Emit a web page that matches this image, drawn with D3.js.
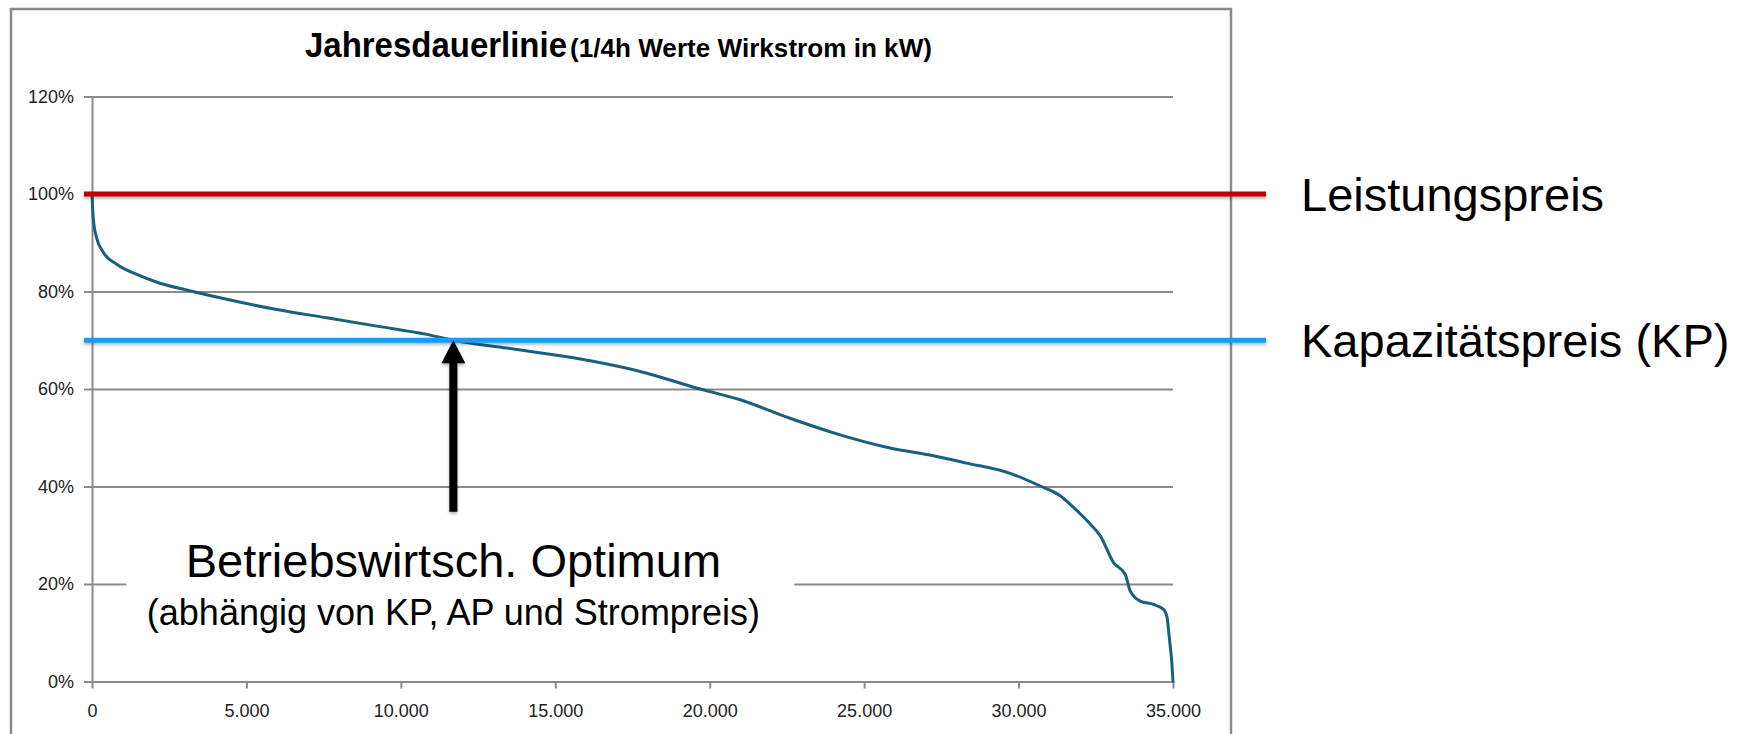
<!DOCTYPE html>
<html>
<head>
<meta charset="utf-8">
<script src="https://cdn.jsdelivr.net/npm/d3@7"></script>
<style>
  body { margin: 0; background: #fff; }
  svg { display: block; font-family: "Liberation Sans", Arial, sans-serif; }
</style>
</head>
<body>
<div id="chart"></div>
<script>
// data
var quarterHours = [0, 40, 150, 370, 800, 1450, 2200, 3065, 4360, 5980, 7600, 9220, 10840, 11700,
  13430, 15590, 17750, 19690, 20985, 22600, 24220, 25840, 27245, 28324, 29728, 30700, 31347,
  31779, 32319, 32643, 33074, 33452, 33614, 33938, 34369, 34693, 34801, 34887, 34963, 35000];
var loadPct = [100, 95, 91, 88, 85.6, 83.5, 81.7, 80.3, 78.4, 76.3, 74.6, 72.9, 71.2, 70.0,
  68.4, 66.4, 63.6, 60.0, 57.8, 54.0, 50.6, 47.9, 46.3, 44.8, 42.7, 40.1, 38.1,
  35.7, 32.3, 29.9, 24.4, 22.0, 18.6, 16.5, 15.8, 14.8, 13.4, 8.6, 3.8, 0];

var yTicks = [0, 20, 40, 60, 80, 100, 120];
var yTickLabels = ["0%", "20%", "40%", "60%", "80%", "100%", "120%"];
var xTicks = [0, 5000, 10000, 15000, 20000, 25000, 30000, 35000];
var xTickLabels = ["0", "5.000", "10.000", "15.000", "20.000", "25.000", "30.000", "35.000"];

var refLevels = [100, 70];
var refNames = ["Leistungspreis", "Kapazitätspreis (KP)"];

var optimumX = 11700, optimumY = 70, arrowEndY = 34.8;
var optimumText = ["Betriebswirtsch. Optimum", "(abhängig von KP, AP und Strompreis)"];

// styles
var refColors = ["#c00000", "#1b9af8"];
var lineColor = "#17607f";
var gridColor = "#8a8a8a";

var W = 1754, H = 734;
var plotLeft = 92, plotRight = 1173, plotTop = 96.5, plotBottom = 681.5;

var svg = d3.select("#chart").append("svg")
    .attr("width", W)
    .attr("height", H);

svg.append("rect").attr("width", W).attr("height", H).attr("fill", "#fff");

// soft shadow under the price lines and the arrow
var defs = svg.append("defs");
defs.append("filter").attr("id", "shadow")
    .attr("filterUnits", "userSpaceOnUse")
    .attr("x", 0).attr("y", 0).attr("width", W).attr("height", H)
  .append("feDropShadow")
    .attr("dx", 0).attr("dy", 2).attr("stdDeviation", 1.4)
    .attr("flood-color", "#000").attr("flood-opacity", 0.3);

// chart frame
svg.append("path")
    .attr("d", "M11,740 V9 H1231 V740")
    .attr("fill", "none")
    .attr("stroke", gridColor)
    .attr("stroke-width", 2.5);

var x = d3.scaleLinear().domain([0, 35000]).range([plotLeft, plotRight]);
var y = d3.scaleLinear().domain([0, 120]).range([plotBottom, plotTop]);

// title
svg.append("text")
    .attr("x", 305).attr("y", 56.5)
    .attr("font-size", 35).attr("font-weight", "bold")
    .attr("textLength", 262).attr("lengthAdjust", "spacingAndGlyphs")
    .text("Jahresdauerlinie");
svg.append("text")
    .attr("x", 570).attr("y", 56.5)
    .attr("font-size", 25).attr("font-weight", "bold")
    .attr("textLength", 362).attr("lengthAdjust", "spacingAndGlyphs")
    .text("(1/4h Werte Wirkstrom in kW)");

// grid lines
svg.append("g")
    .attr("transform", "translate(" + plotLeft + ",0)")
    .call(d3.axisLeft(y).tickValues(yTicks).tickSize(-(plotRight - plotLeft)).tickFormat(""))
    .call(function(g) { g.select(".domain").remove(); })
    .selectAll("line")
    .attr("stroke", gridColor)
    .attr("stroke-width", 2);

// y axis
var yAxis = svg.append("g")
    .attr("transform", "translate(" + plotLeft + ",0)")
    .call(d3.axisLeft(y).tickValues(yTicks).tickSizeInner(8).tickSizeOuter(0).tickPadding(10)
      .tickFormat(function(d, i) { return yTickLabels[i]; }));
yAxis.select(".domain").attr("stroke", gridColor).attr("stroke-width", 2);
yAxis.selectAll("line").attr("stroke", gridColor).attr("stroke-width", 2);
yAxis.selectAll("text").attr("font-size", 18).attr("fill", "#222")
    .attr("font-family", "Liberation Sans, Arial, sans-serif");

// x axis
var xAxis = svg.append("g")
    .attr("transform", "translate(0," + plotBottom + ")")
    .call(d3.axisBottom(x).tickValues(xTicks).tickSizeInner(7).tickSizeOuter(0).tickPadding(16)
      .tickFormat(function(d, i) { return xTickLabels[i]; }));
xAxis.select(".domain").attr("stroke", gridColor).attr("stroke-width", 2);
xAxis.selectAll("line").attr("stroke", gridColor).attr("stroke-width", 2);
xAxis.selectAll("text").attr("font-size", 18).attr("fill", "#222")
    .attr("font-family", "Liberation Sans, Arial, sans-serif");

// duration curve
var pts = quarterHours.map(function(d, i) { return [d, loadPct[i]]; });
var line = d3.line()
    .x(function(d) { return x(d[0]); })
    .y(function(d) { return y(d[1]); })
    .curve(d3.curveMonotoneX);

svg.append("path")
    .datum(pts)
    .attr("fill", "none")
    .attr("stroke", lineColor)
    .attr("stroke-width", 3)
    .attr("stroke-linejoin", "round")
    .attr("stroke-linecap", "round")
    .attr("d", line);

// price lines + labels
refLevels.forEach(function(v, i) {
  svg.append("line")
      .attr("x1", plotLeft - 8).attr("x2", plotRight + 93)
      .attr("y1", y(v)).attr("y2", y(v))
      .attr("stroke", refColors[i])
      .attr("stroke-width", 5)
      .attr("filter", "url(#shadow)");
  svg.append("text")
      .attr("x", 1301)
      .attr("y", y(v) + 17)
      .attr("font-size", 47)
      .attr("fill", "#000")
      .text(refNames[i]);
});

// optimum arrow
var ax = x(optimumX), tipY = y(optimumY), endY = y(arrowEndY);
svg.append("path")
    .attr("d", "M" + ax + "," + tipY +
      " L" + (ax + 12) + "," + (tipY + 23) +
      " L" + (ax + 4) + "," + (tipY + 23) +
      " L" + (ax + 4) + "," + endY +
      " L" + (ax - 4) + "," + endY +
      " L" + (ax - 4) + "," + (tipY + 23) +
      " L" + (ax - 12) + "," + (tipY + 23) + " Z")
    .attr("fill", "#000")
    .attr("filter", "url(#shadow)");

// label with white box over the grid
svg.append("rect")
    .attr("x", ax - 327).attr("y", 540)
    .attr("width", 668).attr("height", 100)
    .attr("fill", "#fff");
svg.append("text")
    .attr("x", ax).attr("y", 577)
    .attr("text-anchor", "middle")
    .attr("font-size", 47)
    .text(optimumText[0]);
svg.append("text")
    .attr("x", ax).attr("y", 625)
    .attr("text-anchor", "middle")
    .attr("font-size", 36)
    .text(optimumText[1]);
</script>
</body>
</html>
